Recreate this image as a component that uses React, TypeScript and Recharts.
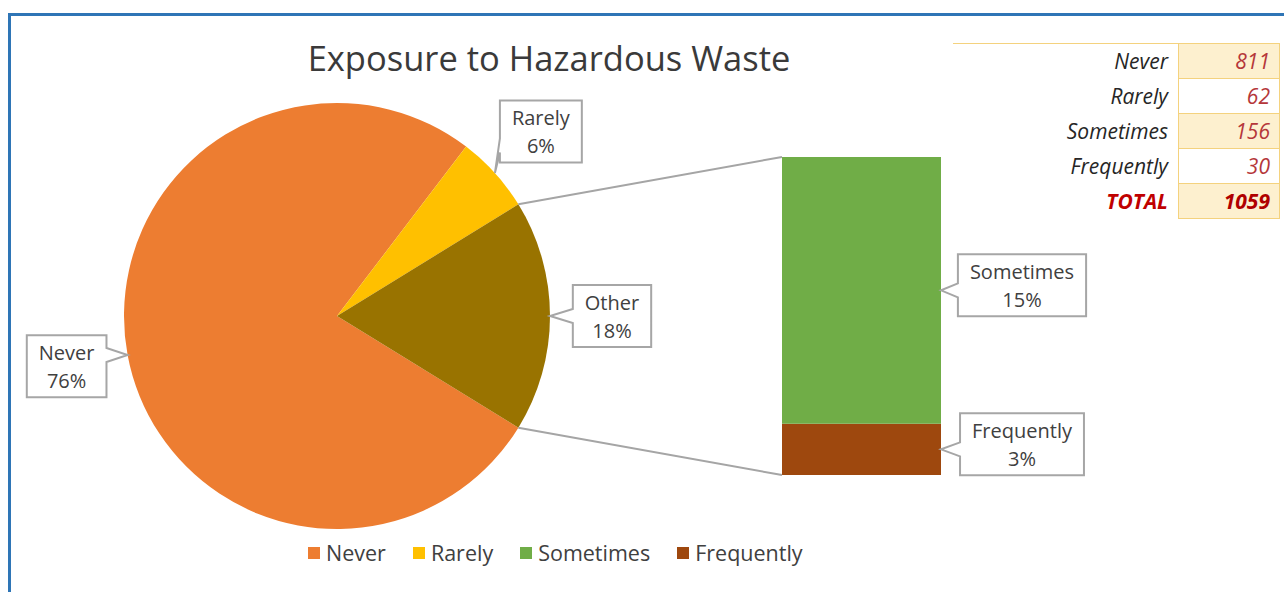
import { PieChart, Pie, Cell, BarChart, Bar, XAxis, YAxis, LabelList } from 'recharts';

// Source counts for the survey question.
const categories = ['Never', 'Rarely', 'Sometimes', 'Frequently'];
const counts = [811, 62, 156, 30];
// Percent labels as Excel showed them.
const shownPct = [76, 6, 15, 3];
const otherPct = 18;
const colors = ['#ed7d31', '#ffc000', '#70ad47', '#9e480e'];
const otherColor = '#997300';

const W = 1284;
const H = 592;
const PIE = { cx: 337, cy: 316, r: 213 };
const BAR_MARGIN = { top: 157, right: 343, bottom: 117, left: 782 };
const LABEL_FONT = '20px "Open Sans"';
const TEXT = '#404040';

const total = counts.reduce((a, b) => a + b, 0);
const otherTotal = counts[2] + counts[3];

const pieData = [
  { name: categories[0], value: counts[0], pct: shownPct[0], color: colors[0] },
  { name: categories[1], value: counts[1], pct: shownPct[1], color: colors[1] },
  { name: 'Other', value: otherTotal, pct: otherPct, color: otherColor },
];
// Stack bottom-up: Frequently first so Sometimes sits on top.
const barData = [{ name: 'Other', Frequently: counts[3], Sometimes: counts[2] }];

const RAD = Math.PI / 180;
const otherHalf = (otherTotal / total) * 180;

let ctx: CanvasRenderingContext2D | null = null;
function textW(s: string) {
  if (!ctx && typeof document !== 'undefined') ctx = document.createElement('canvas').getContext('2d');
  if (!ctx) return s.length * 10;
  ctx.font = LABEL_FONT;
  return ctx.measureText(s).width;
}

const clamp = (v: number, lo: number, hi: number) => Math.max(lo, Math.min(hi, v));

// Excel style callout: box with a little wedge pointing at (tx, ty).
function Callout({ bx, by, tx, ty, lines }: { bx: number; by: number; tx: number; ty: number; lines: string[] }) {
  const w = Math.max(...lines.map(textW)) + 24;
  const h = 62;
  const l = bx - w / 2;
  const t = by - h / 2;
  const r = l + w;
  const b = t + h;
  const hw = 7;
  let d: string;
  if (tx < l) {
    const m = clamp(ty, t + 10 + hw, b - 10 - hw);
    d = `M${l},${t} L${r},${t} L${r},${b} L${l},${b} L${l},${m + hw} L${tx},${ty} L${l},${m - hw} Z`;
  } else if (tx > r) {
    const m = clamp(ty, t + 10 + hw, b - 10 - hw);
    d = `M${l},${t} L${r},${t} L${r},${m - hw} L${tx},${ty} L${r},${m + hw} L${r},${b} L${l},${b} Z`;
  } else if (ty < t) {
    const m = clamp(tx, l + 10 + hw, r - 10 - hw);
    d = `M${l},${t} L${m - hw},${t} L${tx},${ty} L${m + hw},${t} L${r},${t} L${r},${b} L${l},${b} Z`;
  } else {
    const m = clamp(tx, l + 10 + hw, r - 10 - hw);
    d = `M${l},${t} L${r},${t} L${r},${b} L${m + hw},${b} L${tx},${ty} L${m - hw},${b} L${l},${b} Z`;
  }
  return (
    <g>
      <path d={d} fill="#fff" stroke="#a6a6a6" strokeWidth={2} />
      {lines.map((s, i) => (
        <text
          key={i}
          x={bx}
          y={by + (i === 0 ? -14 : 14)}
          textAnchor="middle"
          dominantBaseline="central"
          fill={TEXT}
          style={{ font: LABEL_FONT }}
        >
          {s}
        </text>
      ))}
    </g>
  );
}

function renderPieLabel(props: any) {
  const { cx, cy, midAngle, outerRadius, index } = props;
  const d = pieData[index];
  const cos = Math.cos(-midAngle * RAD);
  const sin = Math.sin(-midAngle * RAD);
  const tx = cx + outerRadius * cos;
  const ty = cy + outerRadius * sin;
  const bx = cx + (outerRadius + 62) * cos;
  const by = cy + (outerRadius + 62) * sin;
  const box = <Callout bx={bx} by={by} tx={tx} ty={ty} lines={[d.name, `${d.pct}%`]} />;
  if (d.name !== 'Other') return box;
  // connector lines from the Other slice edges to the bar corners
  const barTop = BAR_MARGIN.top;
  const barBottom = H - BAR_MARGIN.bottom;
  const barLeft = BAR_MARGIN.left;
  const a1 = (midAngle + otherHalf) * RAD;
  const a2 = (midAngle - otherHalf) * RAD;
  return (
    <g>
      <line x1={cx + outerRadius * Math.cos(-a1)} y1={cy + outerRadius * Math.sin(-a1)} x2={barLeft} y2={barTop} stroke="#a5a5a5" strokeWidth={2} />
      <line x1={cx + outerRadius * Math.cos(-a2)} y1={cy + outerRadius * Math.sin(-a2)} x2={barLeft} y2={barBottom} stroke="#a5a5a5" strokeWidth={2} />
      {box}
    </g>
  );
}

function barLabel(name: string, pct: number) {
  return (props: any) => {
    const vb = props.viewBox ?? props;
    const x = Number(vb.x);
    const y = Number(vb.y);
    const w = Number(vb.width);
    const h = Number(vb.height);
    const tx = x + w;
    const ty = y + h / 2;
    return <Callout bx={tx + 81} by={ty - 5} tx={tx} ty={ty} lines={[name, `${pct}%`]} />;
  };
}

const cellBase = { height: 34, padding: '0 10px', fontStyle: 'italic', fontSize: 21, textAlign: 'right' as const };

export default function App() {
  return (
    <div style={{ position: 'absolute', left: 0, top: 0, width: W, height: H, background: '#fff', overflow: 'hidden', fontFamily: '"Open Sans", sans-serif' }}>
      <div style={{ position: 'absolute', left: 8, top: 13, width: W + 20, height: H + 20, border: '3px solid #2e75b6', boxSizing: 'border-box' }} />
      <div style={{ position: 'absolute', left: 0, top: 35, width: 1098, textAlign: 'center', fontSize: 34.5, lineHeight: '46px', color: '#3a3a3a' }}>
        Exposure to Hazardous Waste
      </div>

      <div style={{ position: 'absolute', left: 0, top: 0 }}>
        <BarChart width={W} height={H} data={barData} margin={BAR_MARGIN} barCategoryGap={0}>
          <XAxis dataKey="name" hide />
          <YAxis hide domain={[0, otherTotal]} />
          <Bar dataKey="Frequently" stackId="o" fill={colors[3]} isAnimationActive={false}>
            <LabelList dataKey="Frequently" content={barLabel(categories[3], shownPct[3])} />
          </Bar>
          <Bar dataKey="Sometimes" stackId="o" fill={colors[2]} isAnimationActive={false}>
            <LabelList dataKey="Sometimes" content={barLabel(categories[2], shownPct[2])} />
          </Bar>
        </BarChart>
      </div>

      <div style={{ position: 'absolute', left: 0, top: 0 }}>
        <PieChart width={W} height={H} margin={{ top: 0, right: 0, bottom: 0, left: 0 }}>
          <Pie
            data={pieData}
            dataKey="value"
            cx={PIE.cx}
            cy={PIE.cy}
            outerRadius={PIE.r}
            startAngle={-otherHalf}
            endAngle={-otherHalf - 360}
            stroke="none"
            label={renderPieLabel}
            labelLine={false}
            isAnimationActive={false}
          >
            {pieData.map((d) => (
              <Cell key={d.name} fill={d.color} />
            ))}
          </Pie>
        </PieChart>
      </div>

      <div style={{ position: 'absolute', left: 308, top: 538, display: 'flex', gap: 27, fontSize: 21.5, color: TEXT, lineHeight: '30px' }}>
        {categories.map((c, i) => (
          <div key={c} style={{ display: 'flex', alignItems: 'center', gap: 6 }}>
            <span style={{ width: 12, height: 12, background: colors[i], display: 'inline-block' }} />
            <span>{c}</span>
          </div>
        ))}
      </div>

      <table style={{ position: 'absolute', left: 953, top: 43, borderCollapse: 'collapse' }}>
        <tbody>
          {[...categories, 'TOTAL'].map((c, i) => {
            const isTotal = c === 'TOTAL';
            const v = isTotal ? total : counts[i];
            const shade = i % 2 === 0 ? '#fdf0cf' : '#fff';
            return (
              <tr key={c}>
                <td style={{ ...cellBase, width: 205, borderTop: i === 0 ? '1px solid #f4d27e' : 'none', color: isTotal ? '#c00000' : '#262626', fontWeight: isTotal ? 700 : 400 }}>
                  {c}
                </td>
                <td style={{ ...cellBase, width: 82, padding: '0 9px', background: shade, border: '1px solid #f4d27e', color: isTotal ? '#b00000' : '#b5373a', fontWeight: isTotal ? 700 : 400 }}>
                  {v}
                </td>
              </tr>
            );
          })}
        </tbody>
      </table>
    </div>
  );
}
